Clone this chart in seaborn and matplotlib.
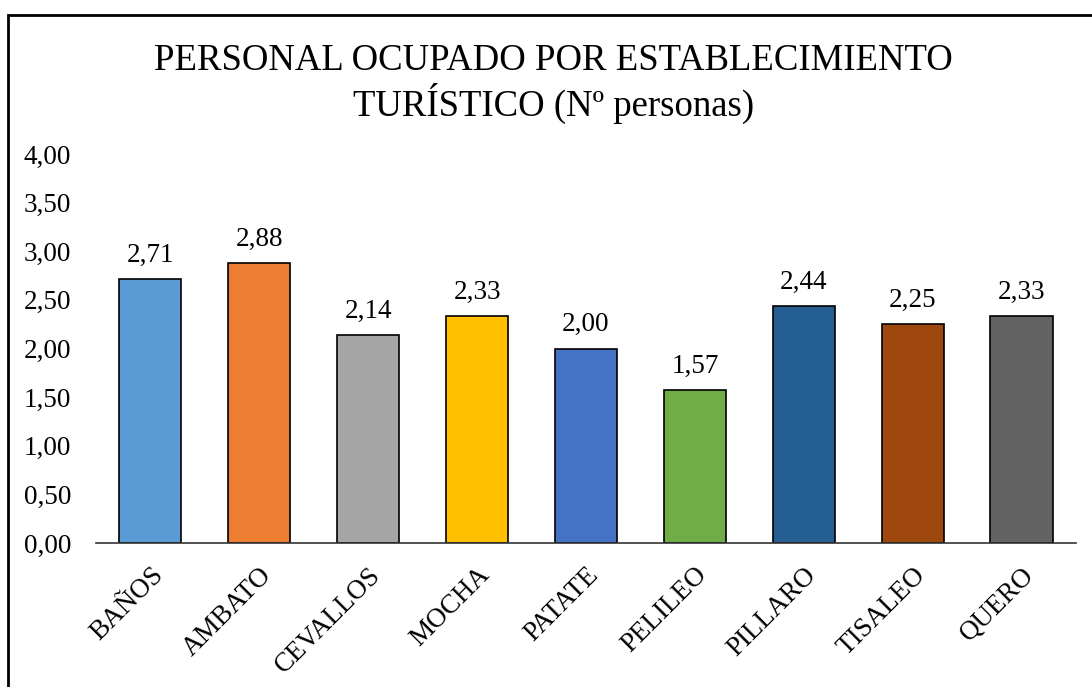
import matplotlib
matplotlib.use("Agg")
import matplotlib.pyplot as plt
from matplotlib.patches import Rectangle
import seaborn as sns
import pandas as pd

# datos del grafico
cantones = ['BAÑOS', 'AMBATO', 'CEVALLOS', 'MOCHA', 'PATATE', 'PELILEO', 'PILLARO', 'TISALEO', 'QUERO']
personal = [2.71, 2.88, 2.14, 2.33, 2.00, 1.57, 2.44, 2.25, 2.33]
colores = ['#5B9BD5', '#ED7D31', '#A5A5A5', '#FFC000', '#4472C4',
           '#70AD47', '#255E91', '#9E480E', '#636363']
yticks = [0, 0.5, 1, 1.5, 2, 2.5, 3, 3.5, 4]

sns.set_style('white')
plt.rcParams['font.family'] = ['Liberation Serif', 'DejaVu Serif']
plt.rcParams['text.color'] = 'black'
plt.rcParams['xtick.color'] = 'black'
plt.rcParams['ytick.color'] = 'black'

df = pd.DataFrame({'canton': cantones, 'personal': personal})

fig = plt.figure(figsize=(10.92, 6.87), dpi=100)
ax = fig.add_axes([0.0879, 0.2096, 0.8974, 0.5662])

sns.barplot(data=df, x='canton', y='personal', hue='canton', palette=colores,
            legend=False, width=0.57, edgecolor='black', linewidth=1.2,
            saturation=1, ax=ax)

# etiquetas de datos
for i, v in enumerate(personal):
    ax.annotate(f'{v:.2f}'.replace('.', ','), (i, v), xytext=(0, 8),
                textcoords='offset points', ha='center', va='bottom', fontsize=19.5)

ax.set_ylim(0, 4)
ax.set_xlim(-0.5, len(cantones) - 0.5)
ax.set_yticks(yticks)
ax.set_yticklabels([f'{t:.2f}'.replace('.', ',') for t in yticks], fontsize=19.5)
ax.set_xticks(range(len(cantones)))
ax.set_xticklabels(cantones, rotation=45, ha='right', rotation_mode='anchor', fontsize=19.5)
ax.tick_params(axis='both', length=0)
ax.tick_params(axis='y', pad=18)
ax.tick_params(axis='x', pad=14)
ax.set_xlabel('')
ax.set_ylabel('')

for s in ['top', 'right', 'left']:
    ax.spines[s].set_visible(False)
ax.spines['bottom'].set_color('#333333')
ax.spines['bottom'].set_linewidth(1.2)

fig.text(0.507, 0.878, 'PERSONAL OCUPADO POR ESTABLECIMIENTO\nTURÍSTICO (Nº personas)',
         ha='center', va='center', fontsize=26.5, linespacing=1.15)

# marco exterior
fig.patches.append(Rectangle((8 / 1092, -0.02), 1.1, 1 - 15 / 687 + 0.02,
                             transform=fig.transFigure, fill=False,
                             edgecolor='black', linewidth=2))

plt.savefig('out.png', dpi=100)
plt.close()
